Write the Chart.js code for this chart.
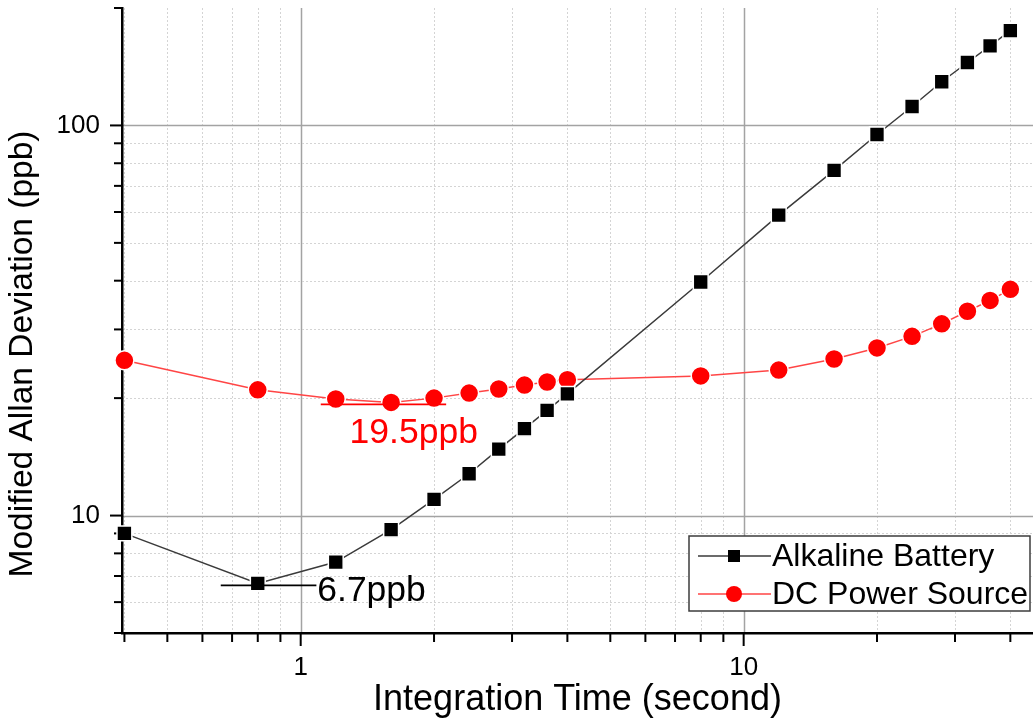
<!DOCTYPE html>
<html>
<head>
<meta charset="utf-8">
<script src="https://cdn.jsdelivr.net/npm/chart.js@4.4.0/dist/chart.umd.min.js"></script>
<style>
  html, body { margin: 0; padding: 0; background: #fff; }
  #wrap { position: relative; width: 1033px; height: 720px; }
</style>
</head>
<body>
<div id="wrap"><canvas id="allan"></canvas></div>
<script>
// integration times (s) and modified Allan deviation (ppb)
const tau = [0.4, 0.8, 1.2, 1.6, 2.0, 2.4, 2.8, 3.2, 3.6, 4.0, 8, 12, 16, 20, 24, 28, 32, 36, 40];
const alkaline = [9.0, 6.7, 7.6, 9.2, 11.0, 12.8, 14.8, 16.7, 18.6, 20.5, 39.7, 58.9, 76.7, 94.8, 111.8, 129.4, 145, 160, 175];
const dcSource = [25.0, 21.0, 19.9, 19.5, 20.0, 20.6, 21.1, 21.6, 22.0, 22.3, 22.8, 23.6, 25.2, 26.9, 28.8, 31.0, 33.4, 35.6, 38.0];

// tick positions; only the decades carry a label
const xTicks = [0.4, 0.5, 0.6, 0.7, 0.8, 0.9, 1, 2, 3, 4, 5, 6, 7, 8, 9, 10, 20, 30, 40];
const yTicks = [5, 6, 7, 8, 9, 10, 20, 30, 40, 50, 60, 70, 80, 90, 100, 200];
const xLabels = [1, 10];
const yLabels = [10, 100];

const FONT = '"Liberation Sans", Arial, Helvetica, sans-serif';

// minima marked on each curve
const minima = [
  { series: alkaline, idx: 1, color: '#000', from: 0.66, to: 1.085, textAt: 1.09, align: 'left', dy: 6 },
  { series: dcSource, idx: 3, color: '#ff0000', from: 1.11, to: 2.13, textAt: 1.8, align: 'center', dy: 29 }
];

const originStyle = {
  id: 'originStyle',
  beforeDraw(chart) {
    const { ctx, chartArea: a, scales: { x, y } } = chart;
    ctx.save();
    // grid
    xTicks.forEach(v => {
      const px = Math.round(x.getPixelForValue(v)) + 0.5;
      if (px <= a.left + 2) return;
      const major = xLabels.includes(v);
      ctx.beginPath();
      ctx.setLineDash(major ? [] : [2, 2]);
      ctx.strokeStyle = major ? '#a3a3a3' : '#d4d4d4';
      ctx.lineWidth = major ? 1.5 : 1;
      ctx.moveTo(px, a.top);
      ctx.lineTo(px, a.bottom);
      ctx.stroke();
    });
    yTicks.forEach(v => {
      const py = Math.round(y.getPixelForValue(v)) + 0.5;
      if (py >= a.bottom - 2 || py <= a.top + 2) return;
      const major = yLabels.includes(v);
      ctx.beginPath();
      ctx.setLineDash(major ? [] : [2, 2]);
      ctx.strokeStyle = major ? '#a3a3a3' : '#d4d4d4';
      ctx.lineWidth = major ? 1.5 : 1;
      ctx.moveTo(a.left, py);
      ctx.lineTo(a.right, py);
      ctx.stroke();
    });
    // outward tick marks
    ctx.setLineDash([]);
    ctx.strokeStyle = '#000';
    ctx.lineWidth = 2;
    xTicks.forEach(v => {
      const px = x.getPixelForValue(v);
      const len = xLabels.includes(v) ? 13 : 9;
      ctx.beginPath();
      ctx.moveTo(px, a.bottom);
      ctx.lineTo(px, a.bottom + len);
      ctx.stroke();
    });
    yTicks.forEach(v => {
      const py = y.getPixelForValue(v);
      const len = yLabels.includes(v) ? 12 : 8;
      ctx.beginPath();
      ctx.moveTo(a.left, py);
      ctx.lineTo(a.left - len, py);
      ctx.stroke();
    });
    ctx.restore();
  },
  afterDatasetsDraw(chart) {
    const { ctx, scales: { x, y } } = chart;
    ctx.save();
    minima.forEach(m => {
      const v = m.series[m.idx];
      const py = y.getPixelForValue(v) + 2;
      ctx.strokeStyle = m.color;
      ctx.lineWidth = 1.8;
      ctx.beginPath();
      ctx.moveTo(x.getPixelForValue(m.from), py);
      ctx.lineTo(x.getPixelForValue(m.to), py);
      ctx.stroke();
      ctx.fillStyle = m.color;
      ctx.font = '35.5px ' + FONT;
      ctx.textAlign = m.align;
      ctx.textBaseline = 'middle';
      ctx.fillText(v + 'ppb', x.getPixelForValue(m.textAt), py + m.dy);
    });
    ctx.restore();
  },
  afterDraw(chart) {
    const { ctx, chartArea: a } = chart;
    ctx.save();
    // y axis title
    ctx.translate(23, 354);
    ctx.rotate(-Math.PI / 2);
    ctx.fillStyle = '#000';
    ctx.font = '33.5px ' + FONT;
    ctx.textAlign = 'center';
    ctx.textBaseline = 'middle';
    ctx.fillText('Modified Allan Deviation (ppb)', 0, 0);
    ctx.restore();

    // legend box in the lower right corner
    ctx.save();
    const bx = a.right - 344, by = a.bottom - 97, bw = 341, bh = 75;
    ctx.fillStyle = '#fff';
    ctx.fillRect(bx, by, bw, bh);
    ctx.strokeStyle = '#3c3c3c';
    ctx.lineWidth = 1.5;
    ctx.strokeRect(bx, by, bw, bh);
    chart.data.datasets.forEach((ds, i) => {
      const cy = by + 20 + i * 38;
      const cx = bx + 45;
      ctx.strokeStyle = ds.borderColor;
      ctx.lineWidth = ds.borderWidth;
      ctx.beginPath();
      ctx.moveTo(bx + 9, cy);
      ctx.lineTo(bx + 82, cy);
      ctx.stroke();
      ctx.fillStyle = ds.pointBackgroundColor;
      ctx.beginPath();
      if (ds.pointStyle === 'rect') {
        ctx.rect(cx - 6, cy - 6, 12, 12);
      } else {
        ctx.arc(cx, cy, 8, 0, Math.PI * 2);
      }
      ctx.fill();
      ctx.fillStyle = '#000';
      ctx.font = '32px ' + FONT;
      ctx.textAlign = 'left';
      ctx.textBaseline = 'middle';
      ctx.fillText(ds.label, bx + 83, cy + 1);
    });
    ctx.restore();
  }
};

new Chart(document.getElementById('allan'), {
  type: 'line',
  data: {
    datasets: [
      {
        label: 'Alkaline Battery',
        data: tau.map((t, i) => ({ x: t, y: alkaline[i] })),
        borderColor: '#3a3a3a',
        borderWidth: 1.5,
        pointStyle: 'rect',
        pointRadius: 10.5,
        pointBackgroundColor: '#000',
        pointBorderColor: '#fff',
        pointBorderWidth: 1.5,
        tension: 0,
        clip: false
      },
      {
        label: 'DC Power Source',
        data: tau.map((t, i) => ({ x: t, y: dcSource[i] })),
        borderColor: '#ff4545',
        borderWidth: 1.5,
        pointStyle: 'circle',
        pointRadius: 9.5,
        pointBackgroundColor: '#ff0000',
        pointBorderColor: '#fff',
        pointBorderWidth: 1.5,
        tension: 0,
        clip: false
      }
    ]
  },
  options: {
    responsive: true,
    maintainAspectRatio: false,
    animation: false,
    layout: { autoPadding: false, padding: { top: 8, right: 0, bottom: 0, left: 0 } },
    plugins: {
      legend: { display: false },
      tooltip: { enabled: false }
    },
    scales: {
      x: {
        type: 'logarithmic',
        min: 0.395,
        max: 45,
        afterBuildTicks: s => { s.ticks = xTicks.map(v => ({ value: v })); },
        afterFit: s => {
          s.height = 87;
          s.paddingLeft = 0;
          s.paddingRight = 0;
        },
        grid: { drawOnChartArea: false, drawTicks: false },
        border: { color: '#000', width: 2.5 },
        ticks: {
          autoSkip: false,
          maxRotation: 0,
          padding: 19,
          color: '#000',
          font: { family: FONT, size: 26 },
          callback: v => (xLabels.includes(v) ? String(v) : '')
        },
        title: {
          display: true,
          text: 'Integration Time (second)',
          color: '#000',
          font: { family: FONT, size: 36, lineHeight: 1 },
          padding: { top: 0, bottom: 2 }
        }
      },
      y: {
        type: 'logarithmic',
        min: 5,
        max: 200,
        afterBuildTicks: s => { s.ticks = yTicks.map(v => ({ value: v })); },
        afterFit: s => {
          s.width = 122;
          s.paddingTop = 0;
          s.paddingBottom = 0;
        },
        grid: { drawOnChartArea: false, drawTicks: false },
        border: { color: '#000', width: 2.5 },
        ticks: {
          autoSkip: false,
          padding: 22,
          color: '#000',
          font: { family: FONT, size: 26 },
          callback: v => (yLabels.includes(v) ? String(v) : '')
        }
      }
    }
  },
  plugins: [originStyle]
});
</script>
</body>
</html>
